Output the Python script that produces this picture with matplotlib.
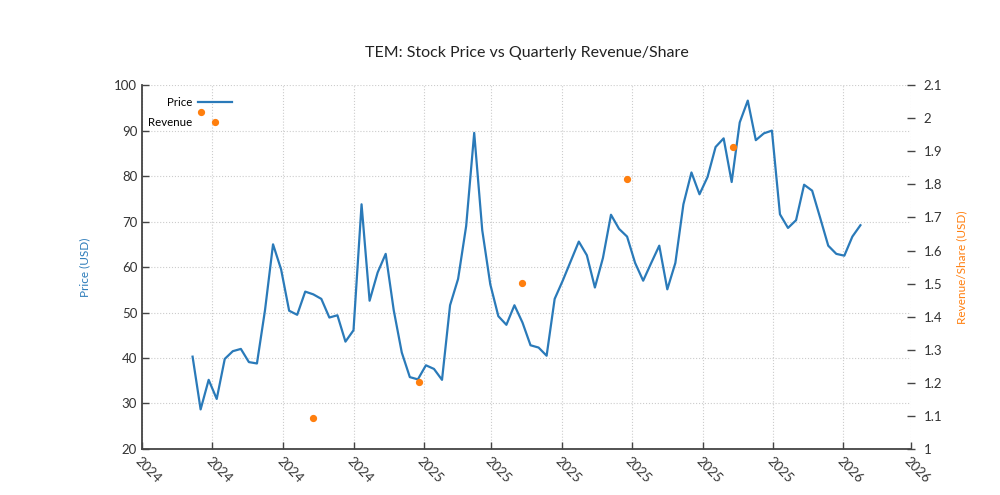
import numpy as np
import pandas as pd
import matplotlib
matplotlib.use("Agg")
import matplotlib.pyplot as plt
import matplotlib.dates as mdates

plt.rcParams['font.family'] = ['Lato', 'DejaVu Sans']

# weekly closing prices, starting at the IPO week
price = [40.3, 28.7, 35.2, 31.0, 39.8, 41.5, 42.0, 39.1, 38.8, 50.5,
         65.0, 59.5, 50.4, 49.5, 54.6, 54.0, 53.0, 48.9, 49.4, 43.6,
         46.1, 73.8, 52.6, 58.8, 62.9, 50.5, 41.2, 35.8, 35.3,
         38.4, 37.6, 35.2, 51.6, 57.4, 69.0, 89.5, 68.1, 56.2, 49.2,
         47.3, 51.6, 47.8, 42.8, 42.3, 40.5, 53.0, 57.0, 61.3, 65.6,
         62.6, 55.5, 62.0, 71.5, 68.4, 66.7, 60.9, 57.0, 60.9, 64.7,
         55.1, 60.9,
         73.8, 80.8, 76.0, 79.8, 86.4, 88.3, 78.7, 91.8, 96.6, 87.9,
         89.4, 90.0, 71.6, 68.6, 70.3, 78.1, 76.8, 70.8, 64.7, 62.9,
         62.5, 66.7, 69.2]
price_dates = pd.date_range("2024-06-14", periods=len(price), freq="W-FRI")

rev_dates = pd.to_datetime(["2024-06-21", "2024-09-27", "2024-12-28",
                            "2025-03-28", "2025-06-27", "2025-09-27"])
rev_share = [2.019, 1.093, 1.203, 1.501, 1.816, 1.913]

blue = "#2a7ab9"
orange = "#ff7f0e"
grey = "#333333"

fig = plt.figure(figsize=(10, 4.95), dpi=100)
ax = fig.add_axes([0.142, 0.093, 0.769, 0.735])
ax2 = ax.twinx()

l1, = ax.plot(price_dates, price, color=blue, lw=1.6, label="Price")
l2, = ax2.plot(rev_dates, rev_share, ls="none", marker="o", ms=4.2,
               color=orange, label="Revenue")

ax.set_xlim(pd.Timestamp("2024-05-01"), pd.Timestamp("2026-03-01"))
ax.set_ylim(20, 100)
ax.set_yticks(np.arange(20, 101, 10))
ax2.set_ylim(1, 2.1)
rticks = np.round(np.arange(1, 2.101, 0.1), 1)
ax2.set_yticks(rticks)
ax2.set_yticklabels(["%g" % t for t in rticks])

ax.xaxis.set_major_locator(mdates.MonthLocator(bymonth=[1, 3, 5, 7, 9, 11]))
ax.xaxis.set_major_formatter(mdates.DateFormatter("%Y"))
for lab in ax.get_xticklabels():
    lab.set_rotation(-45)
    lab.set_ha("left")
    lab.set_va("top")
    lab.set_rotation_mode("anchor")

ax.grid(True, ls=":", color="#cccccc", lw=0.8)
ax.set_axisbelow(True)

for a in (ax, ax2):
    a.spines["top"].set_visible(False)
    a.spines["right"].set_visible(False)
ax2.spines["left"].set_visible(False)
ax2.spines["bottom"].set_visible(False)
ax.spines["left"].set_color("#444444")
ax.spines["bottom"].set_color("#444444")
ax.spines["left"].set_linewidth(1.3)
ax.spines["bottom"].set_linewidth(1.3)

ax.tick_params(axis="both", direction="in", length=5, width=1, colors="#444444",
               labelcolor=grey, labelsize=9.5)
ax.tick_params(axis="x", pad=4)
ax2.tick_params(axis="y", direction="inout", length=6, width=1, colors="#444444",
                labelcolor=grey, labelsize=9.5, pad=6)

ax.set_ylabel("Price (USD)", color=blue, fontsize=8.5, labelpad=17)
ax2.set_ylabel("Revenue/Share (USD)", color=orange, fontsize=8.5, labelpad=10)
ax.set_title("TEM: Stock Price vs Quarterly Revenue/Share", fontsize=11.5,
             color="#222222", pad=20)

ax2.legend([l1, l2], ["Price", "Revenue"], loc="upper right",
           bbox_to_anchor=(0.131, 0.995), frameon=False, markerfirst=False,
           fontsize=8.3, handlelength=3.0, labelspacing=0.75, handletextpad=0.5)

fig.savefig("out.png", dpi=100)
